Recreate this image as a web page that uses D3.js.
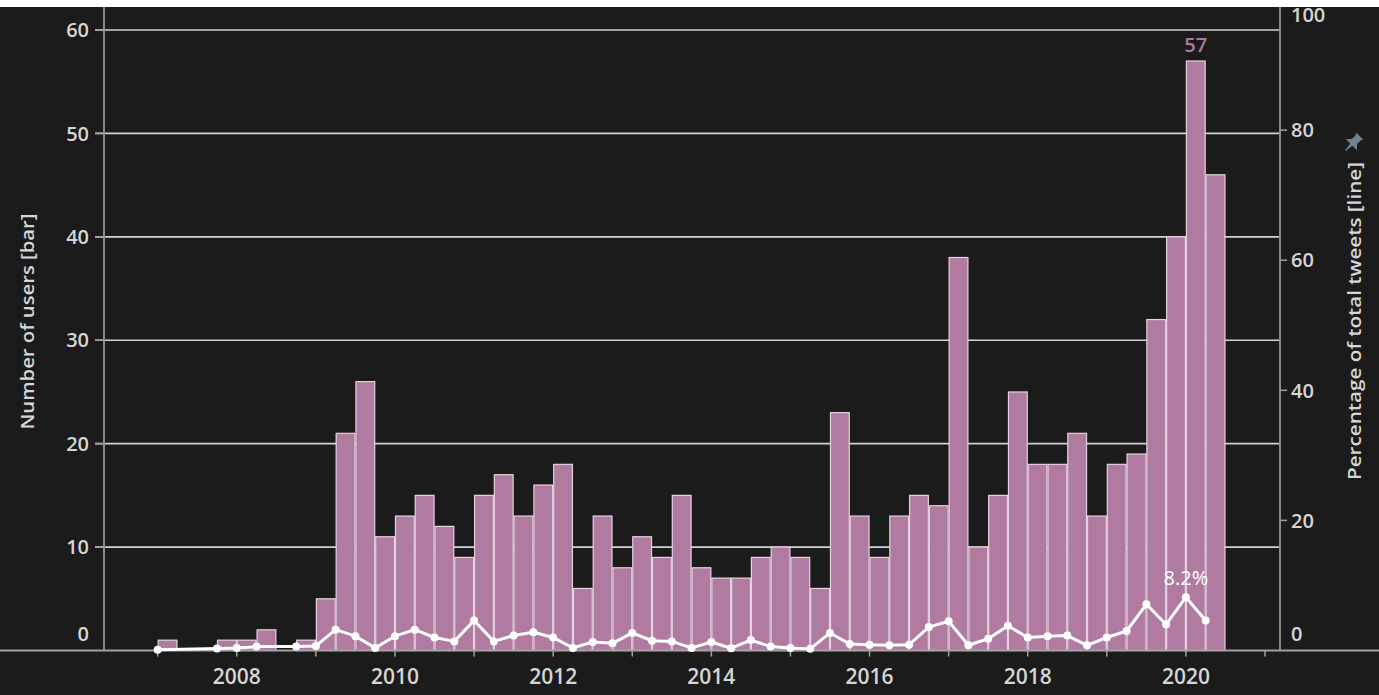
<!DOCTYPE html>
<html><head><meta charset="utf-8">
<script src="https://cdn.jsdelivr.net/npm/d3@7"></script>
<style>
html,body{margin:0;padding:0;background:#1b1b1b;}
svg{display:block;}
text{font-family:"Open Sans","Noto Sans",sans-serif;}
</style></head>
<body><svg id="c" width="1379" height="695"></svg>
<script>
const quarters = [
 "2007 Q1","2007 Q2","2007 Q3","2007 Q4",
 "2008 Q1","2008 Q2","2008 Q3","2008 Q4",
 "2009 Q1","2009 Q2","2009 Q3","2009 Q4",
 "2010 Q1","2010 Q2","2010 Q3","2010 Q4",
 "2011 Q1","2011 Q2","2011 Q3","2011 Q4",
 "2012 Q1","2012 Q2","2012 Q3","2012 Q4",
 "2013 Q1","2013 Q2","2013 Q3","2013 Q4",
 "2014 Q1","2014 Q2","2014 Q3","2014 Q4",
 "2015 Q1","2015 Q2","2015 Q3","2015 Q4",
 "2016 Q1","2016 Q2","2016 Q3","2016 Q4",
 "2017 Q1","2017 Q2","2017 Q3","2017 Q4",
 "2018 Q1","2018 Q2","2018 Q3","2018 Q4",
 "2019 Q1","2019 Q2","2019 Q3","2019 Q4",
 "2020 Q1","2020 Q2"];
const users = [1,0,0,1, 1,2,0,1, 5,21,26,11, 13,15,12,9, 15,17,13,16, 18,6,13,8,
 11,9,15,8, 7,7,9,10, 9,6,23,13, 9,13,15,14, 38,10,15,25, 18,18,21,13, 18,19,32,40, 57,46];
const pctTweets = [0.1,null,null,0.3, 0.4,0.6,null,0.6, 0.7,3.2,2.2,0.4, 2.2,3.2,2.0,1.4,
 4.6,1.4,2.3,2.8, 2.0,0.4,1.3,1.1, 2.7,1.5,1.4,0.4, 1.3,0.35,1.6,0.6, 0.4,0.25,2.7,1.0,
 0.9,0.8,0.9,3.6, 4.5,0.8,1.8,3.8, 2.0,2.2,2.3,0.8, 2.0,3.0,7.1,4.0, 8.2,4.6];
const yearTicks = [2007,2008,2009,2010,2011,2012,2013,2014,2015,2016,2017,2018,2019,2020,2021];
const yearLabels = [2008,2010,2012,2014,2016,2018,2020];
const leftTicks = [0,10,20,30,40,50,60];
const rightTicks = [0,20,40,60,80,100];
const leftTitle = "Number of users [bar]";
const rightTitle = "Percentage of total tweets [line]";

const W=1379,H=695, base=650.5, topY=7, axL=104, axR=1280;
const svg=d3.select("#c");
const tq = q => { const [y,qq]=q.split(" Q"); return +y + (+qq-1)/4; };
const x=d3.scaleLinear().domain([2007,2021]).range([157.7,1265]);
const yL=d3.scaleLinear().domain([0,62.9]).range([base,0]);
const yR=d3.scaleLinear().domain([0,100]).range([base,0]);
const txt="#d6d6d6";

svg.append("rect").attr("width",W).attr("height",H).attr("fill","#1b1b1b");

// gridlines
svg.append("g").selectAll("line").data(leftTicks.filter(d=>d>0)).join("line")
 .attr("x1",95).attr("x2",axR).attr("y1",d=>yL(d)).attr("y2",d=>yL(d))
 .attr("stroke","#d2d2d2").attr("stroke-width",1.6);

// bars
const data=quarters.map((q,i)=>({t:tq(q),u:users[i],p:pctTweets[i]}));
svg.append("g").selectAll("rect").data(data.filter(d=>d.u>0)).join("rect")
 .attr("x",d=>x(d.t)+0.5).attr("width",d=>x(d.t+0.25)-x(d.t)-1)
 .attr("y",d=>yL(d.u)).attr("height",d=>base-yL(d.u))
 .attr("fill","#b07aa1").attr("stroke","#e6d3df").attr("stroke-width",1.2);

// axes lines
svg.append("line").attr("x1",axL).attr("x2",axL).attr("y1",topY).attr("y2",base).attr("stroke","#8c8c8c").attr("stroke-width",2);
svg.append("line").attr("x1",axR).attr("x2",axR).attr("y1",topY).attr("y2",base).attr("stroke","#8c8c8c").attr("stroke-width",2);
svg.append("line").attr("x1",0).attr("x2",W).attr("y1",base).attr("y2",base).attr("stroke","#a0a0a0").attr("stroke-width",2);

// x ticks
svg.append("g").selectAll("line").data(yearTicks).join("line")
 .attr("x1",d=>x(d)).attr("x2",d=>x(d)).attr("y1",base).attr("y2",base+6)
 .attr("stroke","#a0a0a0").attr("stroke-width",1.5);
svg.append("g").selectAll("text").data(yearLabels).join("text")
 .attr("x",d=>x(d)).attr("y",684).attr("text-anchor","middle")
 .attr("fill",txt).attr("font-size",21).attr("font-weight",600).text(d=>d);

// left ticks
svg.append("g").selectAll("line").data(leftTicks.filter(d=>d>0)).join("line")
 .attr("x1",95).attr("x2",axL).attr("y1",d=>yL(d)).attr("y2",d=>yL(d)).attr("stroke","#a0a0a0").attr("stroke-width",1.5);
svg.append("g").selectAll("text").data(leftTicks).join("text")
 .attr("x",89).attr("y",d=>d===0?634:yL(d)).attr("dy","0.36em").attr("text-anchor","end")
 .attr("fill",txt).attr("font-size",20).attr("font-weight",600).text(d=>d);

// right ticks
svg.append("g").selectAll("line").data(rightTicks.filter(d=>d>0&&d<100)).join("line")
 .attr("x1",axR).attr("x2",axR+7).attr("y1",d=>yR(d)).attr("y2",d=>yR(d)).attr("stroke","#a0a0a0").attr("stroke-width",1.5);
svg.append("g").selectAll("text").data(rightTicks).join("text")
 .attr("x",1291).attr("y",d=>d===0?634:(d===100?15:yR(d))).attr("dy","0.36em")
 .attr("fill",txt).attr("font-size",20).attr("font-weight",600).text(d=>d);

// line
const lineData=data.filter(d=>d.p!==null);
svg.append("path").datum(lineData)
 .attr("d",d3.line().x(d=>x(d.t)).y(d=>yR(d.p)))
 .attr("fill","none").attr("stroke","#ffffff").attr("stroke-width",3).attr("stroke-linejoin","round");
svg.append("g").selectAll("circle").data(lineData).join("circle")
 .attr("cx",d=>x(d.t)).attr("cy",d=>yR(d.p)).attr("r",4).attr("fill","#ffffff");

// labels
const maxU=d3.max(data,d=>d.u), maxD=data.find(d=>d.u===maxU);
svg.append("text").attr("x",x(maxD.t+0.125)).attr("y",yL(maxU)-9).attr("text-anchor","middle")
 .attr("fill","#a97a9d").attr("font-size",20).attr("font-weight",600).text(maxU);
const maxP=d3.max(lineData,d=>d.p), maxPD=lineData.find(d=>d.p===maxP);
svg.append("text").attr("x",x(maxPD.t)).attr("y",yR(maxP)-12).attr("text-anchor","middle")
 .attr("fill","#ffffff").attr("font-size",20).text(maxP.toFixed(1)+"%");

// titles
svg.append("text").attr("transform","translate(34,321.5) rotate(-90)").attr("text-anchor","middle")
 .attr("fill",txt).attr("font-size",18).attr("font-weight",600)
 .attr("textLength",216).attr("lengthAdjust","spacingAndGlyphs").text(leftTitle);
svg.append("text").attr("transform","translate(1361,321) rotate(-90)").attr("text-anchor","middle")
 .attr("fill",txt).attr("font-size",18).attr("font-weight",600)
 .attr("textLength",318).attr("lengthAdjust","spacingAndGlyphs").text(rightTitle);

// pin icon
svg.append("path").attr("transform","translate(1353,143) rotate(45) scale(1.2)")
 .attr("d","M-4,-8 L4,-8 L3,-6 L3,-2 L6.5,2 L-6.5,2 L-3,-2 L-3,-6 Z M-1.2,2 L1.2,2 L0.4,9 L-0.4,9 Z")
 .attr("fill","#6f8294");

// top white band
svg.append("rect").attr("x",0).attr("y",0).attr("width",W).attr("height",topY).attr("fill","#ffffff");
</script></body></html>
